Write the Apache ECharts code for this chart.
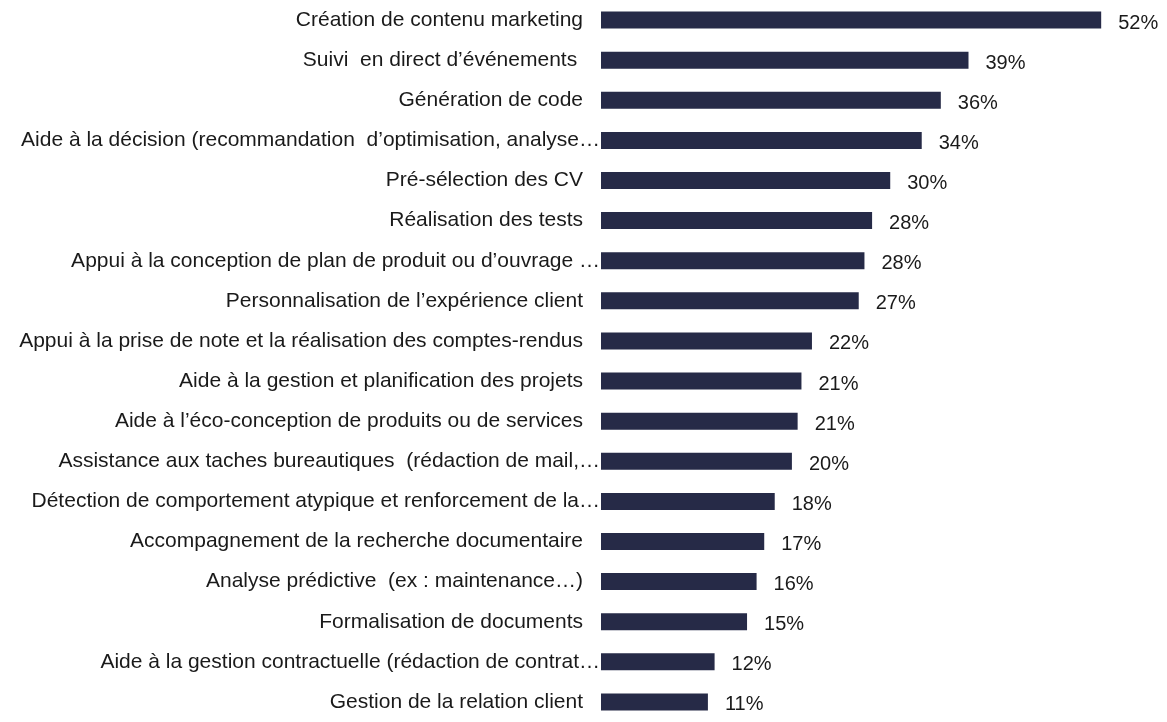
<!DOCTYPE html>
<html>
<head>
<meta charset="utf-8">
<script src="https://cdn.jsdelivr.net/npm/echarts@6/dist/echarts.min.js"></script>
<style>
  html, body { margin: 0; padding: 0; background: #fff; }
  #main { width: 1167px; height: 722px; }
</style>
</head>
<body>
<div id="main"></div>
<script>
// catégories, du haut vers le bas
var categories = [
  'Création de contenu marketing',
  'Suivi  en direct d\u2019événements ',
  'Génération de code',
  'Aide à la décision (recommandation  d\u2019optimisation, analyse…',
  'Pré-sélection des CV',
  'Réalisation des tests',
  'Appui à la conception de plan de produit ou d\u2019ouvrage …',
  'Personnalisation de l\u2019expérience client',
  'Appui à la prise de note et la réalisation des comptes-rendus',
  'Aide à la gestion et planification des projets',
  'Aide à l\u2019éco-conception de produits ou de services',
  'Assistance aux taches bureautiques  (rédaction de mail,…',
  'Détection de comportement atypique et renforcement de la…',
  'Accompagnement de la recherche documentaire',
  'Analyse prédictive  (ex : maintenance…)',
  'Formalisation de documents',
  'Aide à la gestion contractuelle (rédaction de contrat…',
  'Gestion de la relation client'
];
// part des répondants (%)
var values = [52.4, 38.5, 35.6, 33.6, 30.3, 28.4, 27.6, 27.0, 22.1, 21.0, 20.6, 20.0, 18.2, 17.1, 16.3, 15.3, 11.9, 11.2];

// les libellés tronqués (…) viennent coller à la barre
var yData = categories.map(function (c) {
  var cut = c.charAt(c.length - 1) === '…';
  return { value: c, textStyle: { padding: [0, cut ? 0 : 17, 0, 0] } };
});

var chart = echarts.init(document.getElementById('main'));
chart.setOption({
  animation: false,
  grid: { left: 601, right: 41, top: -4, height: 732 },
  xAxis: {
    type: 'value',
    min: 0,
    max: 55,
    show: false
  },
  yAxis: {
    type: 'category',
    inverse: true,
    data: yData,
    axisLine: { show: false },
    axisTick: { show: false },
    axisLabel: {
      margin: 1,
      fontFamily: 'Liberation Sans, Arial, sans-serif',
      fontSize: 21,
      color: '#1a1a1a'
    }
  },
  series: [{
    type: 'bar',
    data: values,
    barWidth: 17,
    itemStyle: { color: '#262a47' },
    label: {
      show: true,
      position: 'right',
      distance: 17,
      offset: [0, 3],
      fontFamily: 'Liberation Sans, Arial, sans-serif',
      fontSize: 20,
      color: '#1a1a1a',
      formatter: function (p) { return Math.round(p.value) + '%'; }
    }
  }]
});
</script>
</body>
</html>
